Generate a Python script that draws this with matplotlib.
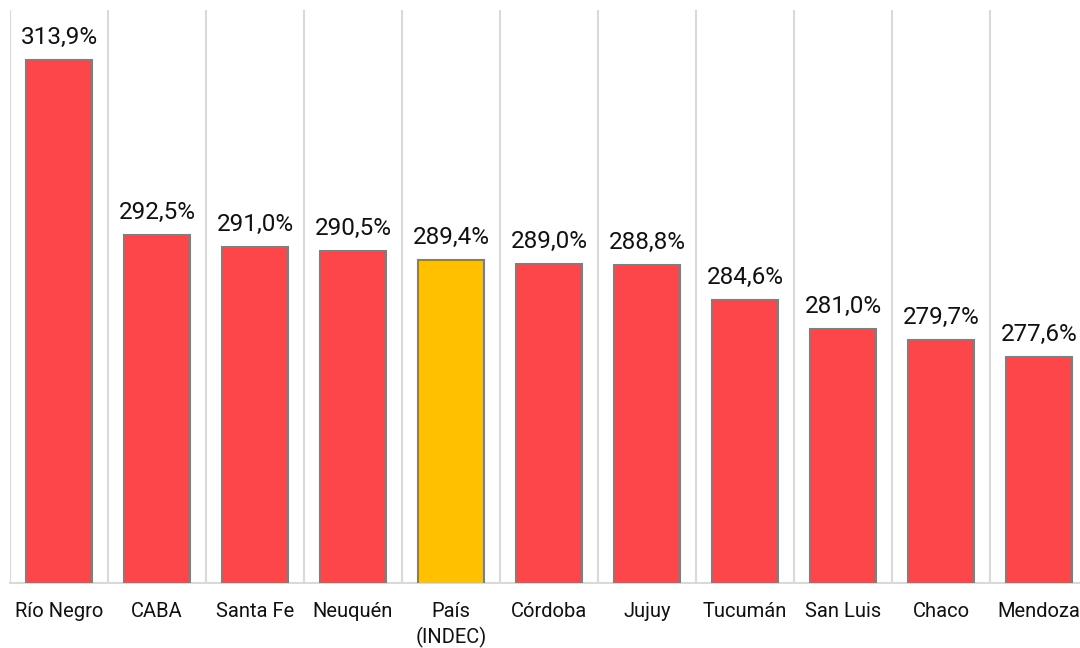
import numpy as np
import matplotlib.pyplot as plt

# datos del gráfico
provincias = ["Río Negro", "CABA", "Santa Fe", "Neuquén", "País\n(INDEC)", "Córdoba",
              "Jujuy", "Tucumán", "San Luis", "Chaco", "Mendoza"]
valores = [313.9, 292.5, 291.0, 290.5, 289.4, 289.0, 288.8, 284.6, 281.0, 279.7, 277.6]
etiquetas = ["313,9%", "292,5%", "291,0%", "290,5%", "289,4%", "289,0%",
             "288,8%", "284,6%", "281,0%", "279,7%", "277,6%"]

plt.rcParams['font.family'] = ['Roboto', 'DejaVu Sans']

fig = plt.figure(figsize=(10.8, 6.48), dpi=100)
ax = fig.add_axes([10/1080, 65/648, 1078/1080, 573/648])

x = np.arange(len(provincias))
colores = ['#ffc000' if p.startswith("País") else '#fc4649' for p in provincias]
ax.bar(x, valores, width=0.68, color=colores, edgecolor='#7f7f7f', linewidth=1.5, zorder=3)

for xi, v, t in zip(x, valores, etiquetas):
    ax.annotate(t, (xi, v), xytext=(0, 8), textcoords='offset points',
                ha='center', va='bottom', fontsize=17.5, color='#111111')

ax.set_xlim(-0.5, len(provincias) - 0.5)
ax.set_ylim(250, 320)
ax.set_xticks(x)
ax.set_xticklabels(provincias, fontsize=14.5, color='#111111', linespacing=1.35)
ax.set_xticks(np.arange(-0.5, len(provincias), 1), minor=True)
ax.tick_params(axis='x', which='both', length=0, pad=14)
ax.set_yticks([])
ax.grid(axis='x', which='minor', color='#d9d9d9', linewidth=1.5, zorder=0)

for s in ['top', 'right', 'left']:
    ax.spines[s].set_visible(False)
ax.spines['bottom'].set_color('#d9d9d9')
ax.spines['bottom'].set_linewidth(1.5)

fig.savefig('out.png', dpi=100)
